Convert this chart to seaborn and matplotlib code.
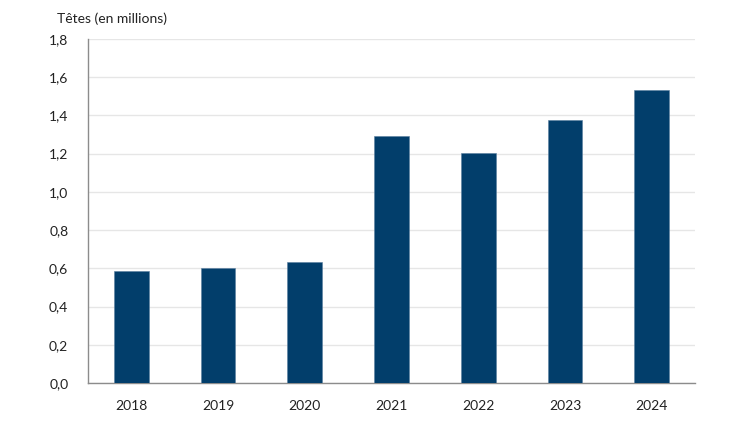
import matplotlib
matplotlib.use("Agg")
import matplotlib.pyplot as plt
import seaborn as sns
import pandas as pd

# data
years = ["2018", "2019", "2020", "2021", "2022", "2023", "2024"]
heads = [0.588, 0.602, 0.632, 1.29, 1.205, 1.375, 1.535]
y_ticks = [0.0, 0.2, 0.4, 0.6, 0.8, 1.0, 1.2, 1.4, 1.6, 1.8]

df = pd.DataFrame({"year": years, "heads": heads})

sns.set_theme(style="white")
plt.rcParams["font.family"] = ["Lato", "DejaVu Sans"]

fig = plt.figure(figsize=(7.5, 4.22), dpi=100)
ax = fig.add_axes([0.117, 0.092, 0.81, 0.816])

sns.barplot(data=df, x="year", y="heads", color="#023e6b", width=0.4,
            saturation=1, edgecolor="#5a7fa0", linewidth=0.4, ax=ax, zorder=3)

ax.set_ylim(0, 1.8)
ax.set_xlim(-0.5, 6.5)
ax.set_yticks(y_ticks)
ax.set_yticklabels([f"{v:.1f}".replace(".", ",") for v in y_ticks])
ax.yaxis.grid(True, color="#e6e6e6", linewidth=1, zorder=0)
ax.set_axisbelow(True)

ax.set_xlabel("")
ax.set_ylabel("")
ax.tick_params(axis="both", length=0, labelsize=10, colors="#222222")
ax.tick_params(axis="x", pad=12)
ax.tick_params(axis="y", pad=14)

for side in ["top", "right"]:
    ax.spines[side].set_visible(False)
for side in ["left", "bottom"]:
    ax.spines[side].set_color("#8c8c8c")
    ax.spines[side].set_linewidth(1)

fig.text(0.076, 0.955, "Têtes (en millions)", fontsize=10, color="#222222",
         ha="left", va="center")

fig.savefig("out.png", dpi=100, facecolor="white")
